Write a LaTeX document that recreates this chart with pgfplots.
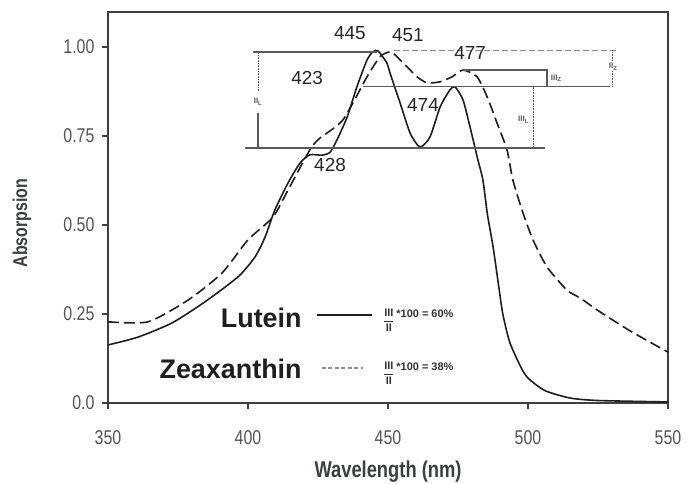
\documentclass[border=0pt]{standalone}
\usepackage{pgfplots}
\pgfplotsset{compat=1.18}
\usepackage{fontspec}
\setmainfont{Liberation Sans}
\newfontfamily\condfont[FakeStretch=0.8]{Liberation Sans}
\definecolor{tickgray}{HTML}{555555}
\definecolor{labgray}{HTML}{3A3F44}
\definecolor{curve}{HTML}{1E1E1E}
\definecolor{annot}{HTML}{5A5A5A}

% lutein (solid) and zeaxanthin (dashed)
\pgfplotstableread{
x y
350 0.163
360.7 0.185
372.9 0.225
384.6 0.284
396.4 0.354
402.5 0.410
406.1 0.466
409.6 0.542
414.3 0.618
418.6 0.674
422.1 0.697
426.4 0.696
429.3 0.704
431.8 0.739
435.4 0.803
438.9 0.888
442.5 0.963
444.6 0.986
446.4 0.989
449.6 0.955
450.7 0.927
454.3 0.843
457.9 0.758
461.4 0.719
465.0 0.747
468.6 0.831
472.1 0.879
473.9 0.888
476.8 0.851
479.3 0.775
482.1 0.683
483.9 0.626
485.5 0.530
487.5 0.440
489.5 0.330
491.0 0.250
493.5 0.170
497.5 0.100
500.0 0.070
506.0 0.035
515.0 0.014
525.0 0.007
550.0 0.003
}\lutein
\pgfplotstableread{
x y
350 0.228
364.3 0.228
378.6 0.289
390.7 0.365
400.0 0.458
408.9 0.522
414.3 0.598
422.1 0.711
425.7 0.744
433.9 0.795
442.5 0.916
447.1 0.972
450.0 0.985
451.8 0.983
456.8 0.944
460.4 0.916
463.9 0.899
468.6 0.902
472.9 0.916
476.8 0.935
481.8 0.916
485.4 0.860
488.9 0.787
492.5 0.711
494.6 0.626
498.2 0.534
501.8 0.458
506.8 0.382
513.9 0.317
518.6 0.295
525.7 0.256
537.0 0.200
550.0 0.143
}\zeax

\begin{document}
\begin{tikzpicture}
\useasboundingbox (-108bp,-81bp) rectangle (590bp,403bp);
\begin{axis}[
  at={(0,0)}, anchor=south west,
  scale only axis, width=560bp, height=391bp,
  xmin=350, xmax=550, ymin=0, ymax=1.098,
  xtick={350,400,450,500,550},
  ytick={0,0.25,0.5,0.75,1},
  yticklabels={0.0,0.25,0.50,0.75,1.00},
  xticklabels={350,400,450,500,550},
  xtick pos=bottom, ytick pos=left,
  tick align=outside, major tick length=6bp,
  tick style={line width=1.5bp, color=black!75},
  axis line style={line width=1.8bp, color=black!75},
  ticklabel style={font=\condfont\fontsize{20}{22}\selectfont, text=tickgray},
  xticklabel style={yshift=-18bp},
  yticklabel style={xshift=-4bp},
  xlabel={Wavelength (nm)}, ylabel={Absorpsion},
  xlabel style={font=\condfont\bfseries\fontsize{23}{25}\selectfont, text=labgray,
    at={(axis description cs:0.5,-0.176)}, anchor=center},
  ylabel style={font=\condfont\bfseries\fontsize{20}{22}\selectfont, text=labgray,
    at={(axis description cs:-0.1536,0.46)}, anchor=center},
  clip=false,
]
\addplot[curve, line width=1.6bp, smooth, tension=0.4] table[x=x,y=y] {\lutein};
\addplot[curve, line width=1.6bp, smooth, tension=0.4, dash pattern=on 11bp off 5bp] table[x=x,y=y] {\zeax};

% annotation lines
\draw[annot, line width=1.3bp] (axis cs:401.8,0.986) -- (axis cs:446,0.986);
\draw[annot!70, line width=0.8bp, dash pattern=on 6bp off 3bp] (axis cs:452,0.99) -- (axis cs:532,0.99);
\draw[annot, line width=0.6bp, densely dotted] (axis cs:403.6,0.986) -- (axis cs:403.6,0.875);
\draw[annot, line width=1.3bp] (axis cs:403.6,0.815) -- (axis cs:403.6,0.716);
\node[font=\fontsize{8}{9}\selectfont\bfseries, text=annot] at (axis cs:403.6,0.846) {II\textsubscript{L}};
\draw[annot, line width=1.3bp] (axis cs:398.9,0.716) -- (axis cs:506.1,0.716);
\draw[annot, line width=0.8bp] (axis cs:441,0.888) -- (axis cs:529.3,0.888);
\draw[annot, line width=0.6bp, densely dotted] (axis cs:501.8,0.888) -- (axis cs:501.8,0.716);
\node[anchor=east, font=\fontsize{8}{9}\selectfont\bfseries, text=annot] at (axis cs:501.6,0.795) {III\textsubscript{L}};
\draw[annot, line width=1.1bp] (axis cs:476.8,0.935) -- (axis cs:506.8,0.935) -- (axis cs:506.8,0.888);
\node[anchor=west, font=\fontsize{8}{9}\selectfont\bfseries, text=annot] at (axis cs:506.9,0.912) {III\textsubscript{Z}};
\draw[annot, line width=0.6bp, densely dotted] (axis cs:530,0.99) -- (axis cs:530,0.888);
\node[fill=white, inner sep=1bp, font=\fontsize{8}{9}\selectfont\bfseries, text=annot] at (axis cs:530.4,0.944) {II\textsubscript{Z}};

% peak labels
\begin{scope}[every node/.style={font=\fontsize{19}{21}\selectfont, text=black!85}]
\node at (axis cs:436.4,1.039) {445};
\node at (axis cs:457.1,1.034) {451};
\node at (axis cs:479.3,0.983) {477};
\node at (axis cs:421.1,0.913) {423};
\node at (axis cs:462.5,0.837) {474};
\node at (axis cs:429.3,0.669) {428};
\end{scope}

% legend
\node[anchor=east, font=\bfseries\fontsize{27}{29}\selectfont, text=black!88] at (axis cs:420.4,0.239) {Lutein};
\node[anchor=east, font=\bfseries\fontsize{27}{29}\selectfont, text=black!88] at (axis cs:420.4,0.0955) {Zeaxanthin};
\draw[curve, line width=1.6bp] (axis cs:424.6,0.247) -- (axis cs:444.3,0.247);
\draw[black!45, line width=1.5bp, dash pattern=on 4bp off 2.5bp] (axis cs:426.4,0.098) -- (axis cs:441.1,0.098);
\node[anchor=west, font=\fontsize{11}{12}\selectfont\bfseries, text=black!80] at (axis cs:447.0,0.232)
  {$\displaystyle\frac{\mathbf{III}}{\mathbf{II}}$\,\raisebox{1.1ex}{*100 = 60\%}};
\node[anchor=west, font=\fontsize{11}{12}\selectfont\bfseries, text=black!80] at (axis cs:447.0,0.083)
  {$\displaystyle\frac{\mathbf{III}}{\mathbf{II}}$\,\raisebox{1.1ex}{*100 = 38\%}};
\end{axis}
\end{tikzpicture}
\end{document}
